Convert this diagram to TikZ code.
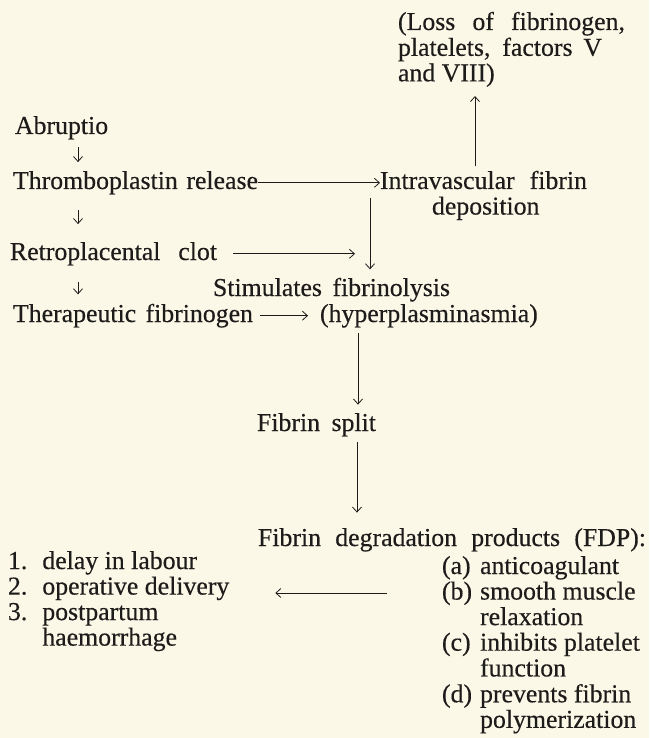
\documentclass[tikz,border=0pt]{standalone}
\usepackage{fontspec}
\setmainfont{Liberation Serif}[FakeBold=0.35]
\usetikzlibrary{arrows.meta}
\definecolor{paper}{RGB}{251,248,232}
\definecolor{ink}{RGB}{30,28,26}
\begin{document}
\begin{tikzpicture}[x=1pt,y=-1pt,
  every node/.style={inner sep=0pt,outer sep=0pt,text=ink,font=\fontsize{25.8}{25.5}\selectfont},
  txt/.style={anchor=base west},
  arr/.style={draw=ink,line width=0.8pt,-{Straight Barb[length=5pt,width=9pt,line width=0.8pt]}}]
\fill[paper] (0,0) rectangle (649,738);
\useasboundingbox (0,0) rectangle (649,738);
% column and row guides
\coordinate (cL) at (78,0);
\coordinate (cUp) at (475,0);
\coordinate (cV) at (370,0);
\coordinate (cH) at (358,0);
\coordinate (cS) at (357,0);
\coordinate (rowB) at (0,593);
% texts
\node[txt] (loss) at (398,30) {\begin{tabular}[t]{@{}l@{}}\makebox[227pt][s]{(Loss of fibrinogen,}\\ \makebox[204pt][s]{platelets, factors V}\\ and VIII)\end{tabular}};
\node[txt] (abr) at (15,134) {Abruptio};
\node[txt] (thr) at (13,189) {\makebox[245pt][s]{Thromboplastin release}};
\node[txt] (ivf) at (380,189) {\begin{tabular}[t]{@{}l@{}}\makebox[207pt][s]{Intravascular fibrin}\\ \hspace*{52pt}deposition\end{tabular}};
\node[txt] (ret) at (10,260) {\makebox[207pt][s]{Retroplacental clot}};
\node[txt] (stim) at (213,296) {\makebox[237pt][s]{Stimulates fibrinolysis}};
\node[txt] (ther) at (13,322) {\makebox[240pt][s]{Therapeutic fibrinogen}};
\node[txt] (hyp) at (320,322) {(hyperplasminasmia)};
\node[txt] (split) at (257,431) {\makebox[119pt][s]{Fibrin split}};
\node[txt] (fdp) at (258,546) {\makebox[388pt][s]{Fibrin degradation products (FDP):}};
\node[txt] (llist) at (8,569) {\begin{tabular}[t]{@{}l@{\hspace{15pt}}l@{}}1.&delay in labour\\ 2.&operative delivery\\ 3.&postpartum\\ &haemorrhage\end{tabular}};
\node[txt] (rlist) at (442,574) {\begin{tabular}[t]{@{}l@{\hspace{8pt}}l@{}}(a)&anticoagulant\\ (b)&smooth muscle\\ &relaxation\\ (c)&inhibits platelet\\ &function\\ (d)&prevents fibrin\\ &polymerization\end{tabular}};
% connectors
\draw[arr,shorten <=4.5pt,shorten >=7pt] (ivf.north -| cUp) -- (loss.south -| cUp);
\draw[arr,shorten <=8pt,shorten >=9pt] (abr.south -| cL) -- (thr.north -| cL);
\draw[arr] (thr.east) -- (thr.east -| ivf.west);
\draw[arr,shorten <=16pt,shorten >=18pt] (thr.south -| cL) -- (ret.north -| cL);
\draw[arr,shorten <=9pt,shorten >=8.5pt] (ivf.base -| cV) -- (stim.north -| cV);
\draw[arr,shorten <=16pt,shorten >=15pt] (ret.east) -- (ret.east -| cV);
\draw[arr,shorten <=16.5pt,shorten >=9.5pt] (ret.south -| cL) -- (ther.north -| cL);
\draw[arr,shorten <=7pt,shorten >=12pt] (ther.east) -- (ther.east -| hyp.west);
\draw[arr,shorten <=5pt,shorten >=8.5pt] (hyp.south -| cH) -- (split.north -| cH);
\draw[arr,shorten <=5.5pt,shorten >=15.5pt] (split.south -| cS) -- (fdp.north -| cS);
\draw[arr,shorten <=55pt,shorten >=46pt] (rlist.west |- rowB) -- (llist.east |- rowB);
\end{tikzpicture}
\end{document}
